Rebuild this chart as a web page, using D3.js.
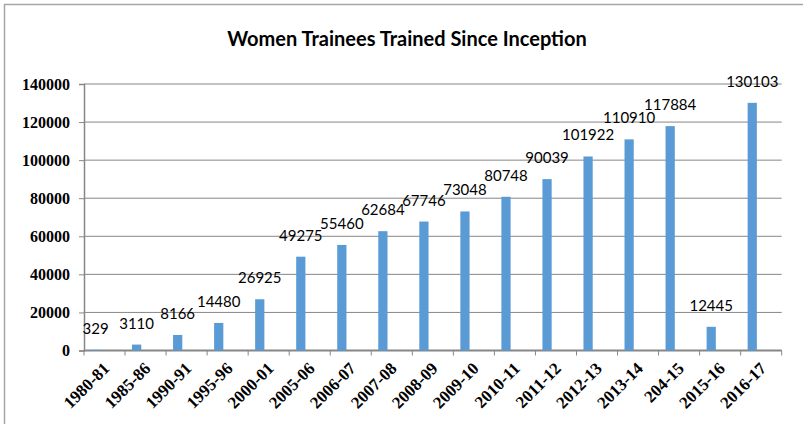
<!DOCTYPE html>
<html>
<head>
<meta charset="utf-8">
<script src="https://cdn.jsdelivr.net/npm/d3@7"></script>
<style>
  body { margin: 0; background: #fff; }
  svg { display: block; }
</style>
</head>
<body>
<svg id="chart" width="803" height="424"></svg>
<script>
var categories = ['1980-81', '1985-86', '1990-91', '1995-96', '2000-01', '2005-06',
  '2006-07', '2007-08', '2008-09', '2009-10', '2010-11', '2011-12', '2012-13',
  '2013-14', '204-15', '2015-16', '2016-17'];
var trainees = [329, 3110, 8166, 14480, 26925, 49275, 55460, 62684, 67746,
  73048, 80748, 90039, 101922, 110910, 117884, 12445, 130103];
var yTicks = [0, 20000, 40000, 60000, 80000, 100000, 120000, 140000];

var svg = d3.select('#chart'),
  plot = {left: 84, right: 781.7, top: 84, bottom: 350.5},
  barColor = '#5b9bd5',
  gridColor = '#868686';

// outer frame (only top and left edges visible in the picture)
svg.append('rect')
  .attr('x', 4.5).attr('y', 4.5)
  .attr('width', 820).attr('height', 440)
  .attr('fill', 'none')
  .attr('stroke', '#a6a6a6')
  .attr('stroke-width', 1.5);

svg.append('text')
  .attr('x', 407).attr('y', 46)
  .attr('text-anchor', 'middle')
  .attr('font-family', 'Lato, sans-serif')
  .attr('font-weight', 'bold')
  .attr('font-size', 20)
  .attr('fill', '#000')
  .text('Women Trainees Trained Since Inception');

var x = d3.scaleBand()
  .domain(categories)
  .range([plot.left, plot.right]);

var y = d3.scaleLinear()
  .domain([0, 140000])
  .range([plot.bottom, plot.top]);

// gridlines
svg.append('g')
  .selectAll('line')
  .data(yTicks.slice(1))
  .enter()
  .append('line')
  .attr('x1', plot.left).attr('x2', plot.right)
  .attr('y1', function (d) { return y(d); })
  .attr('y2', function (d) { return y(d); })
  .attr('stroke', gridColor)
  .attr('stroke-width', 1);

// y axis
var yAxis = svg.append('g')
  .attr('transform', 'translate(' + plot.left + ',0)')
  .call(d3.axisLeft(y).tickValues(yTicks).tickSize(5).tickPadding(9)
    .tickFormat(d3.format('d')));
yAxis.select('.domain').attr('stroke', gridColor).attr('stroke-width', 1.5);
yAxis.selectAll('.tick line').attr('stroke', gridColor);
yAxis.selectAll('.tick text')
  .attr('font-family', '"Liberation Serif", serif')
  .attr('font-weight', 'bold')
  .attr('font-size', 16)
  .attr('fill', '#000');

// x axis: ticks sit on category boundaries
var xAxis = svg.append('g')
  .attr('transform', 'translate(0,' + plot.bottom + ')');
xAxis.append('line')
  .attr('x1', plot.left).attr('x2', plot.right)
  .attr('stroke', gridColor).attr('stroke-width', 2);
xAxis.selectAll('.xtick')
  .data(categories.concat(['end']))
  .enter()
  .append('line')
  .attr('class', 'xtick')
  .attr('x1', function (d, i) { return plot.left + i * x.bandwidth(); })
  .attr('x2', function (d, i) { return plot.left + i * x.bandwidth(); })
  .attr('y1', 0).attr('y2', 5)
  .attr('stroke', gridColor);
xAxis.selectAll('.xlabel')
  .data(categories)
  .enter()
  .append('text')
  .attr('class', 'xlabel')
  .attr('text-anchor', 'end')
  .attr('font-family', '"Liberation Serif", serif')
  .attr('font-weight', 'bold')
  .attr('font-size', 17)
  .attr('fill', '#000')
  .attr('transform', function (d) {
    return 'translate(' + (x(d) + x.bandwidth() / 2 + 6) + ',19) rotate(-45)';
  })
  .text(function (d) { return d; });

// bars
var bw = x.bandwidth();
svg.append('g')
  .selectAll('rect')
  .data(trainees)
  .enter()
  .append('rect')
  .attr('x', function (d, i) { return x(categories[i]) + bw * 0.17; })
  .attr('width', bw * 0.225)
  .attr('y', function (d) { return y(d); })
  .attr('height', function (d) { return plot.bottom - y(d); })
  .attr('fill', barColor);

// data labels
svg.append('g')
  .selectAll('text')
  .data(trainees)
  .enter()
  .append('text')
  .attr('text-anchor', 'middle')
  .attr('x', function (d, i) { return x(categories[i]) + bw * 0.17 + bw * 0.1125; })
  .attr('y', function (d) { return y(d) - 16; })
  .attr('font-family', 'Lato, sans-serif')
  .attr('font-size', 15)
  .attr('fill', '#000')
  .text(function (d) { return d; });
</script>
</body>
</html>
